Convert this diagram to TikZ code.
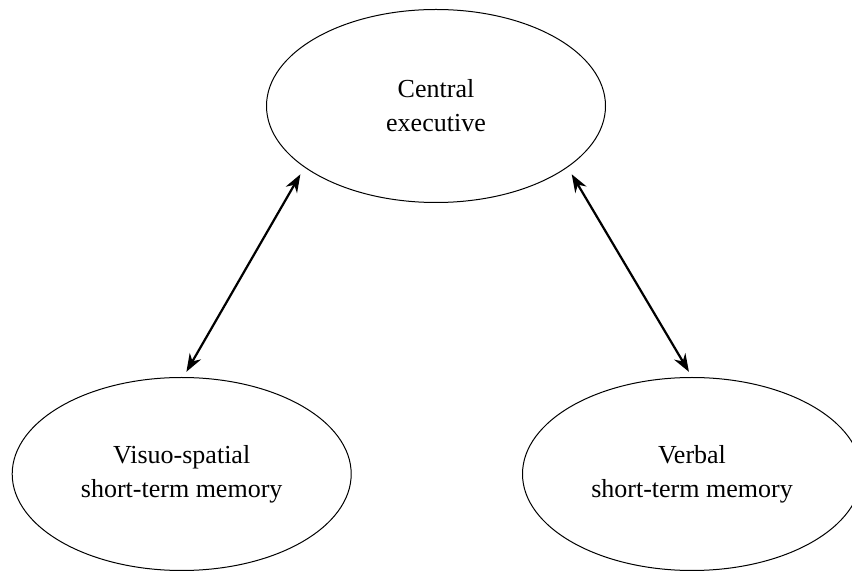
\documentclass[tikz,border=0pt]{standalone}
\usepackage{fontspec}
\setmainfont{Liberation Serif}
\usetikzlibrary{arrows.meta,shapes.geometric}
\begin{document}
\begin{tikzpicture}[x=0.5pt,y=-0.5pt,
  blob/.style={draw=black, line width=0.5pt, ellipse, minimum width=169.5pt, minimum height=96.5pt,
    align=center, inner sep=0pt, font=\fontsize{13}{17}\selectfont},
  link/.style={line width=1.1pt, {Stealth[length=9pt,width=6.5pt]}-{Stealth[length=9pt,width=6.5pt]}}]
\useasboundingbox (0,0) rectangle (852,571);
\node[blob] (ce) at (436,106) {Central\\executive};
\node[blob] (vs) at (181.7,474) {Visuo-spatial\\short-term memory};
\node[blob] (vr) at (692,474) {Verbal\\short-term memory};
\draw[link, shorten <=4pt, shorten >=3pt] (ce.205) -- (vs.89);
\draw[link, shorten <=4pt, shorten >=3pt] (ce.335) -- (vr.90);
\end{tikzpicture}
\end{document}
